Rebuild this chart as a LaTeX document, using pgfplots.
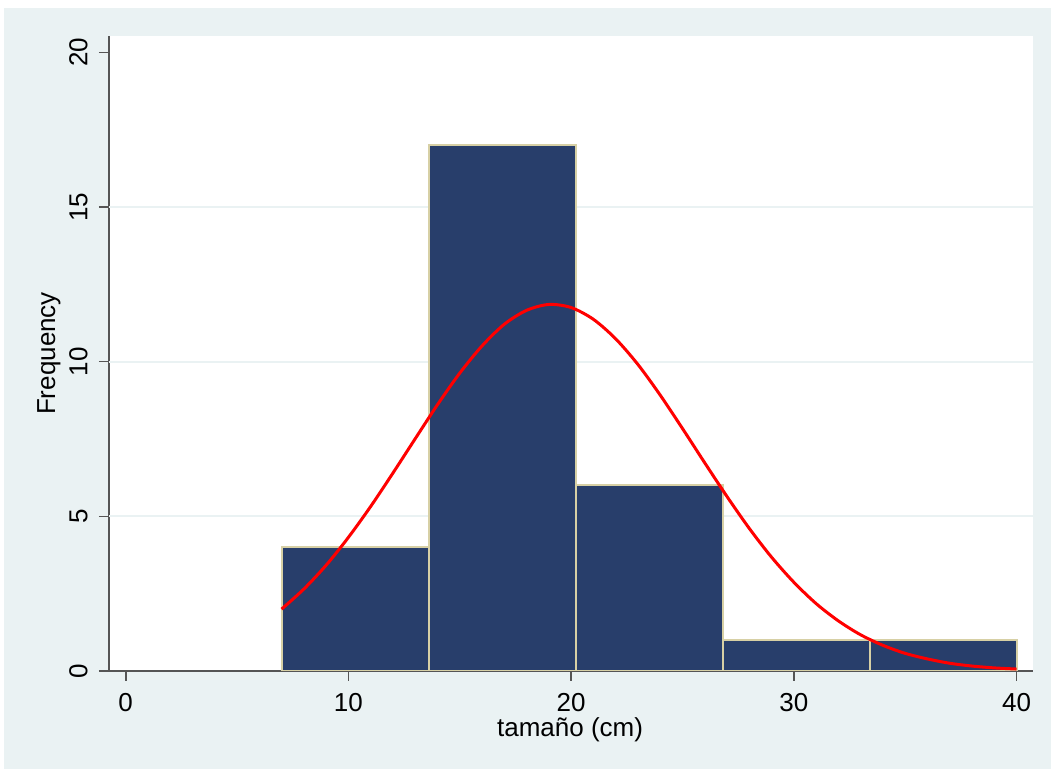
\documentclass[border=0pt]{standalone}
\usepackage{pgfplots}
\pgfplotsset{compat=1.18}
\usepackage{fontspec}
\setmainfont{Liberation Sans}
\definecolor{bgc}{RGB}{234,242,243}
\definecolor{barc}{RGB}{40,62,107}
\definecolor{edgec}{RGB}{215,208,165}
\definecolor{axc}{RGB}{85,85,85}
\begin{document}
\begin{tikzpicture}
\useasboundingbox (-54.5pt,-49pt) rectangle (471pt,335.5pt);
\fill[bgc] (-52.5pt,-49pt) rectangle (471pt,331.5pt);
\begin{axis}[
  at={(0,0)}, anchor=south west,
  scale only axis, width=462pt, height=317.5pt,
  xmin=-0.75, xmax=40.74, ymin=0, ymax=20.53,
  axis x line*=bottom, axis y line*=left,
  axis line style={draw=axc, line width=0.8pt, -},
  axis background/.style={fill=white},
  xtick={0,10,20,30,40}, ytick={0,5,10,15,20},
  tick align=outside, major tick length=5pt,
  tick style={draw=axc, line width=0.8pt},
  minor tick num=0,
  extra y ticks={5,10,15}, extra y tick labels={},
  extra y tick style={grid=major, major tick length=0pt, major grid style={draw=bgc, line width=1pt}},
  xticklabel style={font=\fontsize{13}{15}\selectfont, anchor=north, inner sep=0pt},
  yticklabel style={font=\fontsize{13}{15}\selectfont, rotate=90, anchor=south, inner sep=0pt},
  xticklabel shift=6pt, yticklabel shift=5.5pt,
  /pgf/number format/assume math mode=true,
  xlabel={tamaño (cm)}, ylabel={Frequency},
  every axis x label/.style={at={(axis description cs:0.499,-0.1024)}, anchor=base, font=\fontsize{13}{15}\selectfont},
  every axis y label/.style={at={(axis description cs:-0.0584,0.5)}, anchor=base, rotate=90, font=\fontsize{13}{15}\selectfont},
]
\addplot[ybar interval, fill=barc, draw=edgec, line width=1pt] coordinates {(7,4) (13.6,17) (20.2,6) (26.8,1) (33.4,1) (40,1)};
\addplot[red, line width=1.5pt, smooth] coordinates {
(7,2.00) (8,2.65) (9,3.42) (10,4.32) (11,5.32) (12,6.40) (13,7.51) (14,8.61) (15,9.63) (16,10.51)
(17,11.21) (18,11.66) (19,11.85) (20,11.75) (21,11.37) (22,10.74) (23,9.91) (24,8.92) (25,7.84)
(26,6.73) (27,5.64) (28,4.61) (29,3.68) (30,2.87) (31,2.18) (32,1.62) (33,1.17) (34,0.83)
(35,0.57) (36,0.39) (37,0.25) (38,0.16) (39,0.10) (40,0.063)};
\end{axis}
\end{tikzpicture}
\end{document}
